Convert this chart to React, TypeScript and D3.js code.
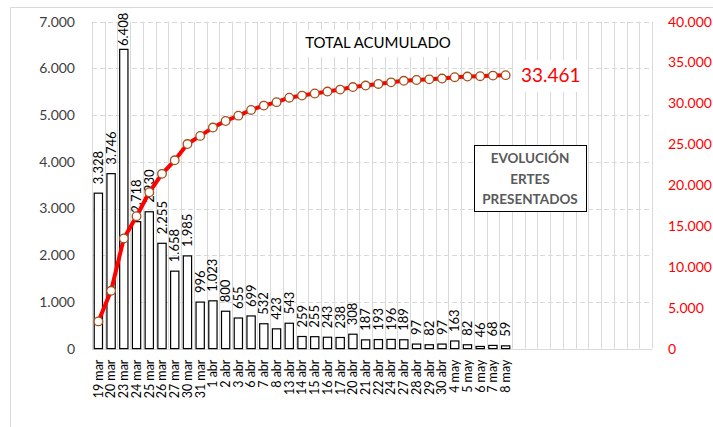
import * as d3 from "d3";

// Fechas de presentación
const fechas = [
  "19 mar", "20 mar", "23 mar", "24 mar", "25 mar", "26 mar", "27 mar", "30 mar", "31 mar",
  "1 abr", "2 abr", "3 abr", "6 abr", "7 abr", "8 abr", "13 abr", "14 abr", "15 abr", "16 abr",
  "17 abr", "20 abr", "21 abr", "22 abr", "24 abr", "27 abr", "28 abr", "29 abr", "30 abr",
  "4 may", "5 may", "6 may", "7 may", "8 may",
];

// ERTEs presentados cada día
const diarios = [
  3328, 3746, 6408, 2718, 2930, 2255, 1658, 1985, 996, 1023, 800, 655, 699, 532, 423, 543,
  259, 255, 243, 238, 308, 187, 193, 196, 189, 97, 82, 97, 163, 82, 46, 68, 59,
];

// Total acumulado
const acumulado = [
  3328, 7074, 13482, 16200, 19130, 21385, 23043, 25028, 26024, 27047, 27847, 28502, 29201,
  29733, 30156, 30699, 30958, 31213, 31456, 31694, 32002, 32189, 32382, 32578, 32767, 32864,
  32946, 33043, 33206, 33288, 33334, 33402, 33461,
];

const ticksIzq = [0, 1000, 2000, 3000, 4000, 5000, 6000, 7000];
const ticksDer = [0, 5000, 10000, 15000, 20000, 25000, 30000, 35000, 40000];

const W = 713;
const H = 427;
const SLOTS = 44; // el eje tiene huecos vacíos a la derecha
const left = 92;
const right = 652;
const top = 21.7;
const bottom = 348.6;
const FONT = "Lato, 'Open Sans', sans-serif";

const es = d3.formatLocale({ decimal: ",", thousands: ".", grouping: [3], currency: ["", "€"] });
const fmt = es.format(",");

export default function App() {
  const x = d3.scaleBand<number>().domain(d3.range(SLOTS)).range([left, right]).padding(0);
  const bw = x.bandwidth();
  const barW = bw * 0.65;
  const yL = d3.scaleLinear().domain([0, 7000]).range([bottom, top]);
  const yR = d3.scaleLinear().domain([0, 40000]).range([bottom, top]);

  const line = d3
    .line<number>()
    .x((_, i) => x(i)! + bw / 2)
    .y((d) => yR(d));

  const last = acumulado.length - 1;

  return (
    <div style={{ position: "absolute", left: 0, top: 0 }}>
      <svg width={W} height={H} style={{ display: "block", background: "#fff" }} fontFamily={FONT}>
        {/* borde del gráfico */}
        <path d={`M10.5,${H} V7.5 H${W}`} fill="none" stroke="#d9d9d9" />

        {/* rejilla vertical */}
        {d3.range(SLOTS + 1).map((i) => {
          const gx = Math.round(left + i * bw) + 0.5;
          return <line key={"v" + i} x1={gx} x2={gx} y1={top} y2={bottom} stroke="#d9d9d9" />;
        })}
        {/* rejilla horizontal discontinua */}
        {ticksIzq.map((t) => (
          <line
            key={"h" + t}
            x1={left}
            x2={right}
            y1={Math.round(yL(t)) + 0.5}
            y2={Math.round(yL(t)) + 0.5}
            stroke="#d9d9d9"
            strokeDasharray={t === 0 ? undefined : "5,3"}
          />
        ))}

        {/* título */}
        <rect x={297} y={30} width={163} height={27} fill="#fff" />
        <text x={378} y={48} textAnchor="middle" fontSize={15} fill="#000">
          TOTAL ACUMULADO
        </text>

        {/* eje izquierdo */}
        {ticksIzq.map((t) => (
          <text key={"l" + t} x={75} y={yL(t)} dy="0.35em" textAnchor="end" fontSize={14} fill="#404040">
            {fmt(t)}
          </text>
        ))}
        {/* eje derecho */}
        {ticksDer.map((t) => (
          <text key={"r" + t} x={668} y={yR(t)} dy="0.35em" fontSize={14} fill="#ff0000">
            {fmt(t)}
          </text>
        ))}

        {/* barras */}
        {diarios.map((v, i) => {
          const cx = x(i)! + bw / 2;
          return (
            <rect
              key={"b" + i}
              x={cx - barW / 2}
              y={yL(v)}
              width={barW}
              height={bottom - yL(v)}
              fill="#fff"
              stroke="#000"
              strokeWidth={1.2}
            />
          );
        })}

        {/* etiquetas de barras */}
        {diarios.map((v, i) => {
          const cx = x(i)! + bw / 2;
          const ty = Math.max(yL(v) - 9, 46);
          return (
            <text
              key={"bl" + i}
              transform={`translate(${cx},${ty}) rotate(-90)`}
              dy="0.35em"
              fontSize={13}
              fill="#000"
            >
              {fmt(v)}
            </text>
          );
        })}

        {/* eje x */}
        {fechas.map((f, i) => {
          const cx = x(i)! + bw / 2;
          return (
            <text
              key={"x" + i}
              transform={`translate(${cx},${bottom + 11}) rotate(-90)`}
              dy="0.35em"
              textAnchor="end"
              fontSize={12.5}
              fill="#000"
            >
              {f}
            </text>
          );
        })}

        {/* línea acumulada */}
        <path d={line(acumulado) ?? ""} fill="none" stroke="#ff0000" strokeWidth={4} strokeLinejoin="round" />
        {acumulado.map((v, i) => (
          <circle
            key={"c" + i}
            cx={x(i)! + bw / 2}
            cy={yR(v)}
            r={4.3}
            fill="#fff"
            stroke="#a5501a"
            strokeWidth={1.3}
          />
        ))}

        {/* etiqueta final */}
        <rect x={513} y={60} width={74} height={32} fill="#fff" />
        <text x={521} y={yR(acumulado[last])} dy="0.35em" fontSize={19} fill="#ff0000">
          {fmt(acumulado[last])}
        </text>

        {/* recuadro */}
        <rect x={474.5} y={145.5} width={112} height={66} fill="#fff" stroke="#000" />
        <g fontSize={13.5} fontWeight="bold" fill="#595959" textAnchor="middle">
          <text x={530} y={163}>EVOLUCIÓN</text>
          <text x={530} y={184}>ERTES</text>
          <text x={530} y={204}>PRESENTADOS</text>
        </g>
      </svg>
    </div>
  );
}
